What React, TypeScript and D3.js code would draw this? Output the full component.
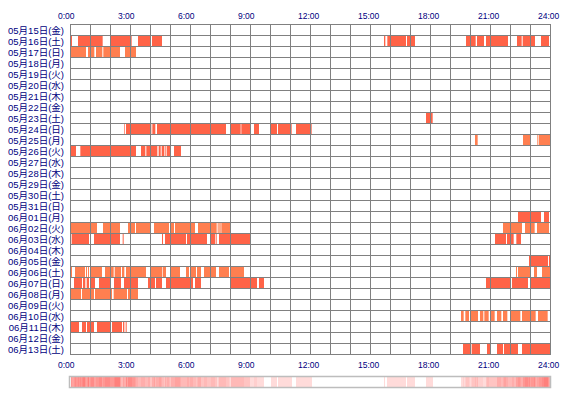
import React from "react";
import * as d3 from "d3";

const dates = [
  "05月15日(金)", "05月16日(土)", "05月17日(日)", "05月18日(月)", "05月19日(火)",
  "05月20日(水)", "05月21日(木)", "05月22日(金)", "05月23日(土)", "05月24日(日)",
  "05月25日(月)", "05月26日(火)", "05月27日(水)", "05月28日(木)", "05月29日(金)",
  "05月30日(土)", "05月31日(日)", "06月01日(月)", "06月02日(火)", "06月03日(水)",
  "06月04日(木)", "06月05日(金)", "06月06日(土)", "06月07日(日)", "06月08日(月)",
  "06月09日(火)", "06月10日(水)", "06月11日(木)", "06月12日(金)", "06月13日(土)",
];

// row shade: "t" = tomato, "c" = coral
const rowShade = [
  "t", "t", "c", "t", "t", "t", "t", "t", "t", "t",
  "c", "t", "t", "t", "t", "t", "t", "t", "c", "t",
  "t", "t", "c", "t", "c", "t", "c", "t", "t", "t",
];

// active periods per row, [start, end] in minutes since 0:00
const segments: number[][][] = [
  [],
  [[3, 6], [24, 98], [121, 185], [204, 241], [246, 276], [942, 946], [952, 1008], [1011, 1035], [1188, 1217], [1221, 1242], [1248, 1314], [1341, 1355], [1358, 1395], [1413, 1437]],
  [[3, 48], [54, 60], [63, 73], [78, 97], [100, 150], [165, 198]],
  [], [], [], [], [],
  [[1068, 1088]],
  [[162, 164], [168, 244], [247, 256], [261, 468], [482, 512], [514, 541], [552, 567], [602, 621], [624, 665], [678, 725]],
  [[1215, 1223], [1359, 1381], [1402, 1404], [1406, 1440]],
  [[3, 18], [31, 198], [213, 226], [229, 262], [266, 272], [275, 283], [286, 288], [290, 300], [312, 333]],
  [], [], [], [], [],
  [[1344, 1413], [1422, 1437]],
  [[3, 81], [99, 150], [174, 195], [198, 241], [252, 297], [303, 312], [315, 375], [384, 440], [443, 446], [448, 452], [454, 481], [1299, 1356], [1365, 1394], [1401, 1437]],
  [[3, 4], [6, 57], [72, 150], [158, 161], [276, 279], [285, 348], [351, 411], [422, 435], [437, 440], [447, 541], [1275, 1308], [1311, 1331], [1339, 1353]],
  [],
  [[1377, 1434], [1437, 1440]],
  [[3, 6], [15, 45], [48, 51], [54, 57], [60, 96], [105, 131], [134, 153], [156, 163], [168, 228], [243, 277], [279, 288], [303, 330], [348, 357], [360, 378], [381, 393], [402, 438], [447, 477], [482, 522], [1338, 1341], [1344, 1381], [1392, 1401], [1416, 1440]],
  [[12, 36], [39, 46], [50, 57], [60, 75], [87, 120], [132, 153], [162, 204], [234, 255], [258, 276], [288, 369], [375, 393], [482, 561], [567, 582], [1248, 1322], [1326, 1374], [1382, 1440]],
  [[3, 33], [36, 72], [75, 126], [131, 171], [174, 204]],
  [],
  [[1173, 1181], [1186, 1197], [1203, 1224], [1230, 1240], [1243, 1256], [1261, 1274], [1281, 1294], [1299, 1312], [1322, 1351], [1356, 1397], [1404, 1433]],
  [[3, 27], [36, 48], [51, 72], [81, 120], [126, 156], [159, 163], [167, 170]],
  [],
  [[1179, 1201], [1205, 1230], [1251, 1261], [1281, 1299], [1302, 1344], [1356, 1440]],
];

const hourTicks = [0, 3, 6, 9, 12, 15, 18, 21, 24];
const hourLabels = ["0:00", "3:00", "6:00", "9:00", "12:00", "15:00", "18:00", "21:00", "24:00"];

const W = 570;
const H = 400;
const left = 70;
const right = 550;
const top = 24;
const rowH = 11;

export default function App() {
  const x = d3.scaleLinear().domain([0, 1440]).range([left, right]);
  const y = d3.scaleLinear().domain([0, dates.length]).range([top, top + rowH * dates.length]);
  const shade: Record<string, string> = { t: "#ff6347", c: "#ff7f50" };

  // heat strip: count active days per pixel column
  const cols = d3.range(left, right);
  const counts = cols.map((px) => {
    const m = x.invert(px + 0.5);
    return segments.filter((segs) => segs.some(([s, e]) => m >= s && m < e)).length;
  });
  const maxCount = d3.max(counts) || 1;
  const heat = (n: number) =>
    n === 0
      ? "#ffffff"
      : d3.interpolateRgb("#ffffff", "#ff5a55")(0.22 + 0.55 * ((n - 1) / Math.max(1, maxCount - 1)));

  const bottom = y(dates.length);

  return (
    <div style={{ position: "fixed", left: 0, top: 0 }}>
      <svg width={W} height={H} style={{ display: "block", background: "#fff" }}>
        {/* bars */}
        {segments.map((segs, i) =>
          segs.map(([s, e], j) => (
            <rect
              key={`${i}-${j}`}
              x={x(s)}
              y={y(i) + 1}
              width={x(e) - x(s)}
              height={rowH - 1}
              fill={shade[rowShade[i]]}
            />
          ))
        )}
        {/* grid */}
        {d3.range(0, 25).map((h) => (
          <line
            key={`v${h}`}
            x1={x(h * 60) + 0.5}
            x2={x(h * 60) + 0.5}
            y1={top}
            y2={bottom + 1}
            stroke="#808080"
            strokeWidth={1}
          />
        ))}
        {d3.range(0, dates.length + 1).map((i) => (
          <line
            key={`h${i}`}
            x1={left}
            x2={right + 1}
            y1={y(i) + 0.5}
            y2={y(i) + 0.5}
            stroke="#808080"
            strokeWidth={1}
          />
        ))}
        {/* row labels */}
        {dates.map((d, i) => (
          <text
            key={`l${i}`}
            x={64}
            y={y(i) + 9.5}
            textAnchor="end"
            fontFamily="'Liberation Sans', 'Noto Sans CJK JP', sans-serif"
            fontSize={9.5}
            fill="#000080"
          >
            {d}
          </text>
        ))}
        {/* hour labels top & bottom */}
        {hourTicks.map((h, k) => (
          <g key={`t${h}`}>
            <text x={x(h * 60) - 12} y={19} fontFamily="'Liberation Sans', Arial, sans-serif" fontSize={8.5} fill="#000080">
              {hourLabels[k]}
            </text>
            <text x={x(h * 60) - 12} y={368} fontFamily="'Liberation Sans', Arial, sans-serif" fontSize={8.5} fill="#000080">
              {hourLabels[k]}
            </text>
          </g>
        ))}
        {/* heat strip */}
        {cols.map((px, k) => (
          <rect key={`s${k}`} x={px} y={377} width={1} height={10} fill={heat(counts[k])} />
        ))}
        <rect x={left - 0.5} y={376.5} width={right - left + 1} height={11} fill="none" stroke="#bdbdbd" strokeWidth={1.5} />
      </svg>
    </div>
  );
}
